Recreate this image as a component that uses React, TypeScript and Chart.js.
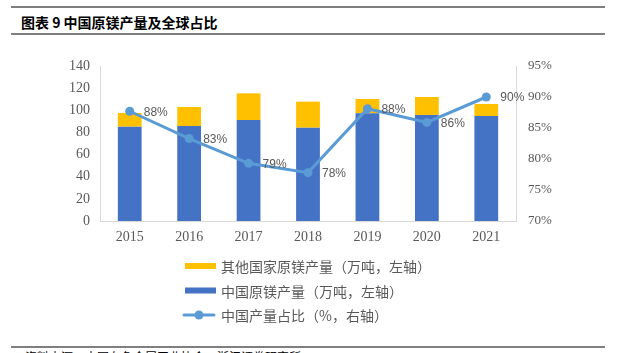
import React, { useEffect, useRef } from "react";
import { Chart, registerables } from "chart.js";

Chart.register(...registerables);

const years = ["2015", "2016", "2017", "2018", "2019", "2020", "2021"];
const chinaOutput = [85.2, 85.8, 91.2, 84.3, 97.3, 95.8, 94.8];
const otherOutput = [12.4, 17.2, 24.1, 23.5, 12.9, 16.2, 10.9];
const chinaShare = [87.7, 83.3, 79.3, 77.8, 88.1, 85.9, 90.0];

const nameOther = "其他国家原镁产量（万吨，左轴）";
const nameChina = "中国原镁产量（万吨，左轴）";
const nameShare = "中国产量占比（%，右轴）";

const BLUE = "#4472C4";
const YELLOW = "#FFC000";
const LINE = "#5B9BD5";
const TEXT = "#595959";
const AXIS = "#D9D9D9";

const CANVAS_TOP = 40;

export default function App() {
  const ref = useRef<HTMLCanvasElement | null>(null);

  useEffect(() => {
    if (!ref.current) return;

    const labelPlugin = {
      id: "shareLabels",
      afterDatasetsDraw(chart: any) {
        const meta = chart.getDatasetMeta(0);
        const ctx = chart.ctx;
        ctx.save();
        ctx.fillStyle = TEXT;
        ctx.font = "12px 'Liberation Sans', sans-serif";
        ctx.textAlign = "left";
        ctx.textBaseline = "middle";
        meta.data.forEach((pt: any, i: number) => {
          ctx.fillText(Math.round(chinaShare[i]) + "%", pt.x + 14, pt.y + 1);
        });
        ctx.restore();
      },
    };

    const legendPlugin = {
      id: "customLegend",
      afterDraw(chart: any) {
        const ctx = chart.ctx;
        ctx.save();
        const x0 = 185;
        const rows = [266, 290.5, 315].map((v) => v - CANVAS_TOP);
        ctx.font = "14px 'Noto Sans CJK SC', sans-serif";
        ctx.textBaseline = "middle";
        ctx.textAlign = "left";
        // yellow
        ctx.fillStyle = YELLOW;
        ctx.fillRect(x0, rows[0] - 3, 31, 6);
        // blue
        ctx.fillStyle = BLUE;
        ctx.fillRect(x0, rows[1] - 3, 31, 6);
        // line
        ctx.strokeStyle = LINE;
        ctx.lineWidth = 3;
        ctx.lineCap = "round";
        ctx.beginPath();
        ctx.moveTo(x0 - 1, rows[2]);
        ctx.lineTo(x0 + 29, rows[2]);
        ctx.stroke();
        ctx.fillStyle = LINE;
        ctx.beginPath();
        ctx.arc(x0 + 14, rows[2], 4.5, 0, Math.PI * 2);
        ctx.fill();
        ctx.fillStyle = TEXT;
        ctx.fillText(nameOther, 221, rows[0] + 1);
        ctx.fillText(nameChina, 221, rows[1] + 1);
        ctx.fillText(nameShare, 221, rows[2] + 1);
        ctx.restore();
      },
    };

    const tickFont = { family: "'Liberation Serif', serif", size: 14 };

    const chart = new Chart(ref.current, {
      type: "bar",
      data: {
        labels: years,
        datasets: [
          {
            type: "line",
            label: nameShare,
            data: chinaShare,
            yAxisID: "y1",
            borderColor: LINE,
            backgroundColor: LINE,
            borderWidth: 3,
            pointRadius: 4.5,
            pointBackgroundColor: LINE,
            pointBorderColor: LINE,
            pointBorderWidth: 0,
            tension: 0,
            order: 0,
          } as any,
          {
            type: "bar",
            label: nameChina,
            data: chinaOutput,
            yAxisID: "y",
            backgroundColor: BLUE,
            borderWidth: 0,
            barPercentage: 0.4,
            categoryPercentage: 1,
            order: 1,
          },
          {
            type: "bar",
            label: nameOther,
            data: otherOutput,
            yAxisID: "y",
            backgroundColor: YELLOW,
            borderWidth: 0,
            barPercentage: 0.4,
            categoryPercentage: 1,
            order: 2,
          },
        ],
      },
      options: {
        responsive: false,
        animation: false,
        layout: { padding: { top: 26, left: 0, right: 0, bottom: 0 } },
        plugins: {
          legend: { display: false },
          tooltip: { enabled: false },
          title: { display: false },
        },
        scales: {
          x: {
            stacked: true,
            grid: { display: false, drawTicks: false },
            border: { display: true, color: AXIS, width: 1 },
            ticks: { color: TEXT, font: tickFont, padding: 8 },
            afterFit: (s: any) => {
              s.height = 119;
            },
          },
          y: {
            stacked: true,
            position: "left",
            min: 0,
            max: 140,
            grid: { display: false, drawTicks: false },
            border: { display: true, color: AXIS, width: 1 },
            ticks: { stepSize: 20, color: TEXT, font: tickFont, padding: 10 },
            afterFit: (s: any) => {
              s.width = 100;
            },
          },
          y1: {
            position: "right",
            min: 70,
            max: 95,
            grid: { display: false, drawTicks: false },
            border: { display: true, color: AXIS, width: 1 },
            ticks: {
              stepSize: 5,
              color: TEXT,
              font: { family: "'Liberation Serif', serif", size: 13 },
              padding: 12,
              callback: (v: any) => v + "%",
            },
            afterFit: (s: any) => {
              s.width = 103;
            },
          },
        },
      },
      plugins: [labelPlugin, legendPlugin],
    });

    return () => chart.destroy();
  }, []);

  const line = (top: number) => (
    <div
      style={{
        position: "absolute",
        left: 11,
        width: 594,
        top,
        height: 0,
        borderTop: "2px solid #7f7f7f",
      }}
    />
  );

  return (
    <div
      style={{
        position: "fixed",
        left: 0,
        top: 0,
        width: 619,
        height: 353,
        overflow: "hidden",
        background: "#fff",
      }}
    >
      {line(6)}
      <div
        style={{
          position: "absolute",
          left: 21,
          top: 13,
          fontFamily: "'Noto Sans CJK SC', sans-serif",
          fontWeight: "bold",
          fontSize: 14,
          lineHeight: "18px",
          color: "#000",
          whiteSpace: "nowrap",
        }}
      >
        图表 9 中国原镁产量及全球占比
      </div>
      {line(33)}
      <div style={{ position: "absolute", left: 0, top: CANVAS_TOP }}>
        <canvas ref={ref} width={619} height={300} style={{ display: "block" }} />
      </div>
      {line(346)}
      <div
        style={{
          position: "absolute",
          left: 25,
          top: 350,
          fontFamily: "'Noto Sans CJK SC', sans-serif",
          fontSize: 12,
          lineHeight: "14px",
          color: "#000",
          whiteSpace: "nowrap",
        }}
      >
        资料来源：中国有色金属工业协会，浙江证券研究所
      </div>
    </div>
  );
}
